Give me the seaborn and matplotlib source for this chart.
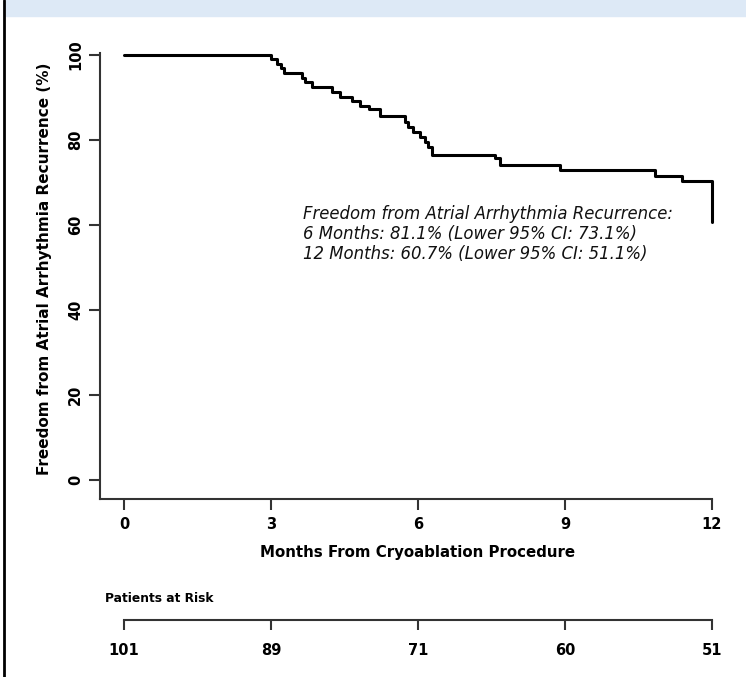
import matplotlib
matplotlib.use('Agg')
import matplotlib.pyplot as plt
from matplotlib.patches import Rectangle
from matplotlib.lines import Line2D
import seaborn as sns
import pandas as pd

# Kaplan-Meier steps (months, % free from recurrence)
months = [0, 3.0, 3.12, 3.2, 3.27, 3.63, 3.7, 3.83, 4.24, 4.41, 4.65, 4.82,
          5.0, 5.22, 5.73, 5.8, 5.9, 6.04, 6.14, 6.2, 6.29, 7.57, 7.67,
          8.9, 10.84, 11.39, 12.0]
freedom = [100, 99.0, 98.0, 96.9, 95.8, 94.6, 93.6, 92.5, 91.4, 90.2, 89.1, 88.1,
           87.4, 85.6, 84.3, 83.1, 81.9, 80.8, 79.6, 78.4, 76.5, 75.7, 74.1,
           72.9, 71.5, 70.4, 60.7]

tick_months = [0, 3, 6, 9, 12]
y_ticks = [0, 20, 40, 60, 80, 100]
at_risk = [101, 89, 71, 60, 51]
note_lines = ["Freedom from Atrial Arrhythmia Recurrence:",
              "6 Months: 81.1% (Lower 95% CI: 73.1%)",
              "12 Months: 60.7% (Lower 95% CI: 51.1%)"]

sns.set_style('ticks')
plt.rcParams['font.family'] = ['DejaVu Sans']
plt.rcParams['text.color'] = 'black'
plt.rcParams['xtick.labelcolor'] = 'black'
plt.rcParams['ytick.labelcolor'] = 'black'
plt.rcParams['axes.labelcolor'] = 'black'

W, H = 746, 677
fig = plt.figure(figsize=(W / 100, H / 100), dpi=100)


def box(l, t, r, b):
    # pixel box -> figure fraction
    return [l / W, 1 - b / H, (r - l) / W, (b - t) / H]


# header band and left frame line
fig.patches.append(Rectangle((6 / W, 1 - 16 / H), 1, 16 / H, transform=fig.transFigure,
                             color='#dde9f6', zorder=0))
fig.add_artist(Line2D([4 / W, 4 / W], [0, 1], color='black', lw=2))

axis_col = '#333333'

# main survival curve
ax = fig.add_axes(box(100, 38, 736, 499))
df = pd.DataFrame({'months': months, 'freedom': freedom})
sns.lineplot(data=df, x='months', y='freedom', drawstyle='steps-post', color='black',
             linewidth=2.2, estimator=None, ax=ax)
ax.set_xlim(-0.49, 12.49)
ax.set_ylim(-4.47, 104)
ax.spines['top'].set_visible(False)
ax.spines['right'].set_visible(False)
ax.spines['bottom'].set_bounds(-0.49, 12)
ax.spines['left'].set_bounds(-4.47, 100.5)
for s in ['left', 'bottom']:
    ax.spines[s].set_color(axis_col)
    ax.spines[s].set_linewidth(1.5)
ax.set_xticks(tick_months)
ax.set_yticks(y_ticks)
ax.tick_params(axis='both', length=8, width=1.5, color=axis_col, labelsize=10.5)
ax.tick_params(axis='x', pad=5)
ax.tick_params(axis='y', pad=4)
ax.set_xticklabels(tick_months, fontweight='bold')
ax.set_yticklabels(y_ticks, rotation=90, va='center', fontweight='bold')
ax.set_xlabel('Months From Cryoablation Procedure', fontsize=10.8, fontweight='bold', labelpad=9)
ax.set_ylabel('Freedom from Atrial Arrhythmia Recurrence (%)', fontsize=11, fontweight='bold',
              labelpad=12)

ax.text(3.65, 64.8, "\n".join(note_lines), style='italic', fontsize=11.9, va='top',
        linespacing=1.15, color='#111111')

# patients at risk table
ax2 = fig.add_axes(box(100, 610, 736, 620))
ax2.set_xlim(-0.49, 12.49)
ax2.set_facecolor('none')
for s in ['top', 'right', 'left']:
    ax2.spines[s].set_visible(False)
ax2.spines['bottom'].set_bounds(0, 12)
ax2.spines['bottom'].set_color(axis_col)
ax2.spines['bottom'].set_linewidth(1.5)
ax2.set_yticks([])
ax2.set_xticks(tick_months)
ax2.set_xticklabels(at_risk, fontweight='bold')
ax2.tick_params(axis='x', length=7.5, width=1.5, color=axis_col, labelsize=10.5, pad=9)

fig.text(105 / W, 1 - 598 / H, 'Patients at Risk', fontsize=8.8, fontweight='bold', va='center')

fig.savefig('out.png', dpi=100)
